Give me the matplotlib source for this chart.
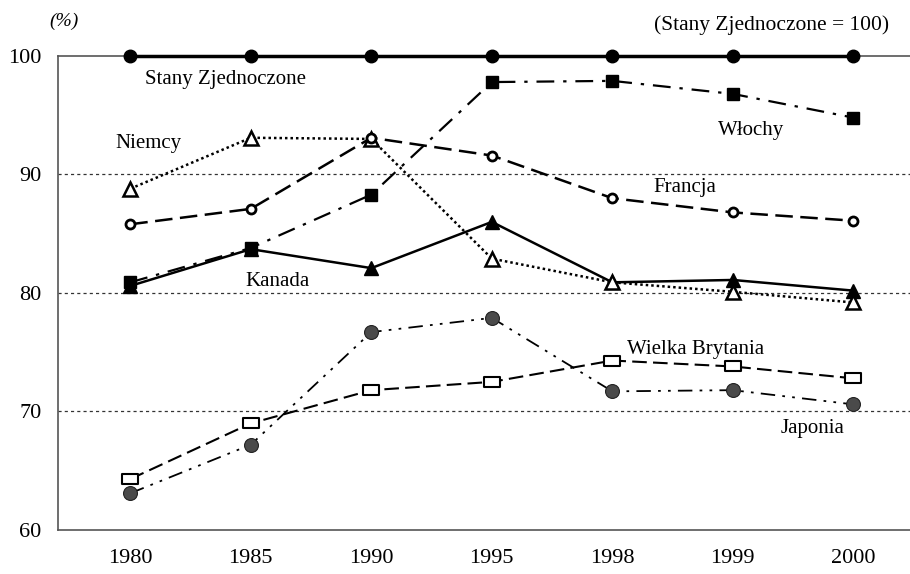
import numpy as np
import matplotlib.pyplot as plt
from matplotlib.path import Path

plt.rcParams['font.family'] = ['Liberation Serif', 'DejaVu Serif']

years = ["1980", "1985", "1990", "1995", "1998", "1999", "2000"]

usa = [100, 100, 100, 100, 100, 100, 100]
wlochy = [80.9, 83.8, 88.3, 97.8, 97.9, 96.8, 94.8]
francja = [85.8, 87.1, 93.1, 91.6, 88.0, 86.8, 86.1]
niemcy = [88.8, 93.1, 93.0, 82.9, 80.9, 80.1, 79.2]
kanada = [80.6, 83.7, 82.1, 86.0, 80.9, 81.1, 80.2]
wielka_brytania = [64.3, 69.0, 71.8, 72.5, 74.3, 73.8, 72.8]
japonia = [63.1, 67.2, 76.7, 77.9, 71.7, 71.8, 70.6]

x = np.arange(len(years))

# flat rectangle marker for the UK series
rect = Path([(-1, -0.6), (1, -0.6), (1, 0.6), (-1, 0.6), (-1, -0.6)],
            [Path.MOVETO, Path.LINETO, Path.LINETO, Path.LINETO, Path.CLOSEPOLY])

fig = plt.figure(figsize=(9.1, 5.74), dpi=100)
ax = fig.add_axes([58 / 910, 44 / 574, 1 - 58 / 910, 474 / 574])

for v in [70, 80, 90]:
    ax.axhline(v, color='#333333', lw=0.9, ls=(0, (2.5, 2.5)), zorder=1)

ax.plot(x, japonia, color='black', lw=1.3, ls=(0, (8, 4, 1.5, 4, 1.5, 4)),
        marker='o', ms=10, mfc='#4a4a4a', mec='#222222', mew=0.8, clip_on=False, zorder=3)
ax.plot(x, wielka_brytania, color='black', lw=1.5, ls=(0, (7, 3)),
        marker=rect, ms=12, mfc='white', mec='black', mew=1.5, clip_on=False, zorder=3)
ax.plot(x, kanada, color='black', lw=1.8, ls='-',
        marker='^', ms=10, mfc='black', mec='black', clip_on=False, zorder=3)
ax.plot(x, niemcy, color='black', lw=1.8, ls=(0, (1, 1.2)),
        marker='^', ms=10, mfc='white', mec='black', mew=1.8, clip_on=False, zorder=3)
ax.plot(x, francja, color='black', lw=1.8, ls=(0, (7, 3)),
        marker='o', ms=6.5, mfc='white', mec='black', mew=2, clip_on=False, zorder=3)
ax.plot(x, wlochy, color='black', lw=1.6, ls=(0, (8, 4, 1.5, 4)),
        marker='s', ms=9, mfc='black', mec='black', clip_on=False, zorder=3)
ax.plot(x, usa, color='black', lw=2.5, ls='-',
        marker='o', ms=9, mfc='black', mec='black', clip_on=False, zorder=4)

ax.set_xlim(-0.6, 6.47)
ax.set_ylim(60, 100)
ax.set_yticks([60, 70, 80, 90, 100])
ax.set_xticks(x)
ax.set_xticklabels(years)
ax.tick_params(length=0, labelsize=16)
ax.tick_params(axis='x', pad=14)
ax.tick_params(axis='y', pad=12)

for s in ['left', 'bottom', 'top']:
    ax.spines[s].set_color('#555555')
    ax.spines[s].set_linewidth(1.2)
ax.spines['right'].set_visible(False)

lab = dict(fontsize=15, ha='center', va='center')
ax.text(0.79, 98.0, "Stany Zjednoczone", **lab)
ax.text(0.15, 92.6, "Niemcy", **lab)
ax.text(5.15, 93.7, "Włochy", **lab)
ax.text(4.6, 88.9, "Francja", **lab)
ax.text(1.22, 81.0, "Kanada", **lab)
ax.text(4.69, 75.2, "Wielka Brytania", **lab)
ax.text(5.66, 68.6, "Japonia", **lab)

fig.text(64 / 910, 1 - 21 / 574, "(%)", fontsize=14, ha='center', va='center', style='italic')
fig.text(889 / 910, 1 - 25 / 574, "(Stany Zjednoczone = 100)", fontsize=15.5, ha='right', va='center')

fig.savefig('out.png', dpi=100)
